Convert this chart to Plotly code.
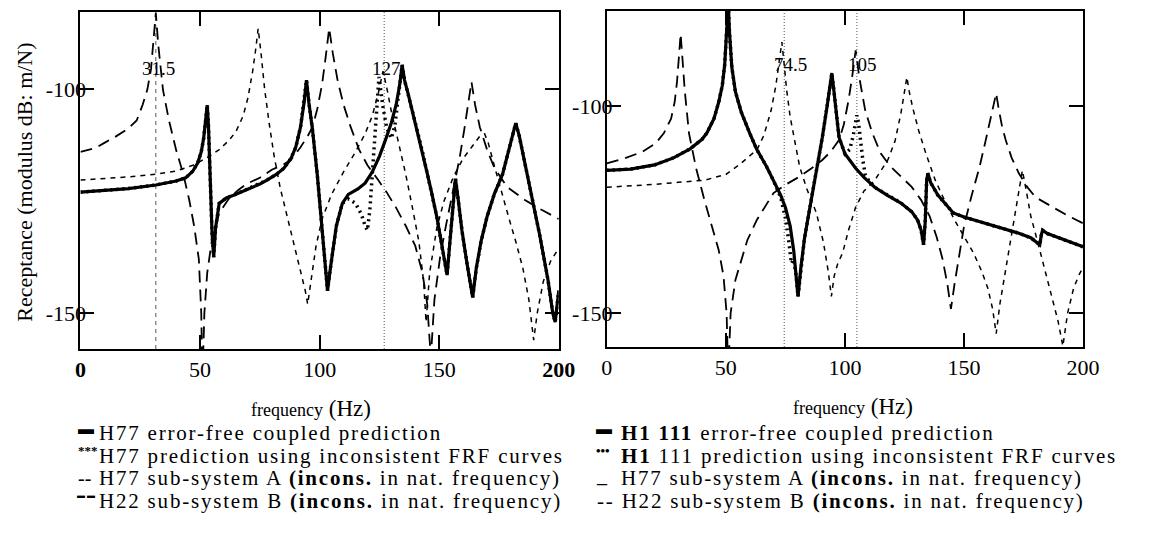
import plotly.graph_objects as go

# ---------------- LEFT PLOT (H77) ----------------
L_solid_f = [0, 10, 20, 31.5, 40, 44, 47, 49, 50.5, 51.5, 52.5, 53, 53.5, 54.2, 55, 55.7, 56.5, 58, 61, 64,
             70, 75, 78, 82, 85, 88, 90, 92, 93.5, 94.5, 95.5, 97, 99, 101, 102.5, 103.3, 104.5, 105.5, 107, 109.5,
             112, 116, 119, 122, 125, 127.5, 130, 132, 133.5, 134.5, 135.5, 137, 140, 143, 145, 147, 149, 151, 152.5, 153.3,
             154.5, 155.7, 156.8, 157.8, 159.5, 161.5, 163, 164, 165.5, 167.5, 170, 173, 176.5, 179, 181, 182, 183.5, 186, 189, 192,
             195.5, 197.5, 198.5, 199.5, 200]
L_solid_db = [-123.0, -122.6, -122.2, -121.4, -120.5, -119.8, -118.3, -116.5, -114, -111, -106.5, -103.6, -108, -120, -132, -137.5, -131, -125.5, -124.3, -123.7,
              -122.3, -121.2, -120.3, -119, -117.7, -115.5, -113, -108.5, -103, -98, -103, -109, -119, -132, -141, -145, -140, -136, -130.5, -125.5,
              -123.5, -122.3, -121, -118.5, -115, -111.4, -107.5, -103.5, -99, -94.6, -98, -101, -107.5, -114, -118.8, -123.5, -128.5, -134.5, -139.5, -141.5,
              -134, -126, -120, -124, -131.5, -138.5, -143, -146.5, -140, -134, -128.5, -123.5, -119, -114, -109.5, -107.6, -110.5, -117, -124.8, -132.5,
              -142.6, -150, -152, -148, -145]

L_dot_f = [0, 10, 20, 31.5, 40, 44, 47, 49, 50.5, 51.5, 52.5, 53, 53.5, 54.2, 55, 55.7, 56.5, 58, 61, 64,
           70, 75, 78, 82, 85, 88, 90, 92, 93.5, 94.5, 95.5, 97, 99, 101, 102.5, 103.3, 104.5, 105.5, 107, 109.5,
           112, 115, 117.5, 119, 120, 121, 122, 123, 124, 124.8, 125.5, 126.5, 128, 130, 131.5, 132.5, 133.5, 134.5, 135.5, 137,
           140, 143, 145, 147, 149, 151, 152.5, 153.3, 154.5, 155.7, 156.8, 157.8, 159.5, 161.5, 163, 164, 165.5, 167.5, 170, 173,
           176.5, 179, 181, 182, 183.5, 186, 189, 192, 195.5, 197.5, 198.5, 199.5, 200]
L_dot_db = [-123.0, -122.6, -122.2, -121.4, -120.5, -119.8, -118.3, -116.5, -114, -111, -106.5, -103.6, -108, -120, -132, -137.5, -131, -125.5, -124.3, -123.7,
            -122.3, -121.2, -120.3, -119, -117.7, -115.5, -113, -108.5, -103, -98, -103, -109, -119, -132, -141, -145, -140, -136, -130.5, -125.5,
            -124.5, -125.5, -128, -130.5, -131.5, -127, -119, -110, -102, -97.3, -100, -104, -108.5, -111, -108, -104, -99, -94.6, -98, -101,
            -107.5, -114, -118.8, -123.5, -128.5, -134.5, -139.5, -141.5, -134, -126, -120, -124, -131.5, -138.5, -143, -146.5, -140, -134, -128.5, -123.5,
            -119, -114, -109.5, -107.6, -110.5, -117, -124.8, -132.5, -142.6, -150, -152, -148, -145]

L_A_f = [0, 10, 20, 31.5, 40, 47, 53, 58, 62, 65, 68, 70, 72, 73.3, 74.3, 75.5, 77, 79, 81, 83.5,
         86, 89, 92, 94, 95, 96.5, 98.5, 101, 105, 110, 115, 119, 122, 124.5, 126.5, 128, 130, 133, 136, 139,
         141.5, 143.5, 144.5, 146, 149, 152, 156, 160, 164, 167, 169, 170.5, 173, 176, 179, 182, 185, 187.5, 189.5, 191,
         193.5, 196.5, 200]
L_A_db = [-120.3, -120.0, -119.6, -119.0, -118.3, -117, -115.3, -113.5, -111.5, -109.5, -106, -102, -96, -91, -86.5, -92, -100, -108, -115, -122,
          -127.5, -133.7, -140, -145, -148, -142, -135, -129, -123.5, -118.5, -114, -110, -106, -101, -96, -99.5, -105, -112, -119, -127,
          -134, -143, -152, -141, -131, -125, -119.5, -115.5, -112.5, -110.5, -110, -112, -117, -123, -128.5, -134, -140, -147, -156, -150,
          -143, -138.5, -135.5]

L_B_f = [0, 6, 10, 15, 20, 23.5, 26, 28, 29.5, 30.5, 31.5, 32.5, 33.5, 34.5, 37, 40, 43, 45.5, 47.5, 49.5,
         50.5, 51, 51.8, 53, 55, 58, 62, 66, 70, 75, 80, 85, 88, 92, 95, 97, 99, 101, 102.5, 104,
         105.5, 107.5, 110, 113, 116.5, 120, 124.5, 128, 132, 136, 140, 143, 145, 146.5, 148, 150.5, 153, 156, 158.5, 160.5,
         162, 163.5, 165, 167, 170, 173, 178.5, 186, 193, 200]
L_B_db = [-114.0, -113.2, -112.0, -110.5, -108.8, -107, -103.5, -100, -95.5, -90, -83, -90, -95.5, -100.2, -107, -113.6, -119, -124.8, -130.5, -138,
          -150, -165, -150, -141, -133.5, -127.7, -124.5, -122.5, -121, -119.8, -118, -116.8, -115.8, -113, -110.5, -108.5, -104.5, -99, -93, -86.4,
          -92, -98, -103.5, -108.5, -113.5, -117, -120.3, -123, -126.5, -130.5, -135, -141, -148, -160, -147, -137, -130, -122.5, -115.5, -109,
          -103.5, -98.4, -103.5, -108.5, -113.5, -117.5, -121.9, -124.8, -127, -129]

# ---------------- RIGHT PLOT (H1111) ----------------
R_solid_f = [0, 10, 20, 28, 35, 40, 42, 45, 47, 48.5, 49.5, 50.5, 51, 51.5, 52.5, 54, 56.5, 60, 63, 67,
             70, 73, 75, 77, 78.5, 79.5, 80.3, 81.5, 83, 84.5, 86.5, 88.5, 90.5, 92.5, 93.7, 94.5, 95.3, 96.5, 97.5, 100,
             104.5, 108, 112.5, 118, 123.5, 128, 130.5, 132, 133, 133.7, 134.3, 134.8, 136, 139, 142, 145.5, 150, 159, 166, 173,
             178, 181, 181.8, 182.5, 183, 185, 190, 195, 200]
R_solid_db = [-115.5, -115.2, -114.2, -112.5, -110.3, -108, -106.5, -103, -99, -95, -90, -82, -75, -82, -90.6, -96.5, -101.5, -106.5, -110.5, -114.5,
              -118, -121.5, -124.5, -129, -135, -141, -146, -139, -132, -127, -120.5, -114.5, -107.5, -100, -95, -92, -96, -103, -107.5, -111.5,
              -115, -117.2, -119.6, -121.6, -123.4, -125.5, -127.5, -130, -133.5, -128, -118, -116.2, -118.5, -121.5, -123.5, -125.8, -126.8, -128.3, -129.5, -130.7,
              -131.8, -133, -133.5, -131, -130, -130.8, -131.8, -133, -134]

R_dot_f = [0, 10, 20, 28, 35, 40, 42, 45, 47, 48.5, 49.5, 50.5, 51, 51.5, 52.5, 54, 56.5, 60, 63, 67,
           70, 73, 75, 76.5, 77.5, 78.5, 79.5, 80.3, 81.5, 83, 84.5, 86.5, 88.5, 90.5, 92.5, 93.7, 94.5, 95.3, 96.5, 97.5,
           100, 102, 103.5, 104.5, 105, 105.7, 106.5, 107.5, 108.5, 110, 112.5, 118, 123.5, 128, 130.5, 132, 133, 133.7, 134.3, 134.8,
           136, 139, 142, 145.5, 150, 159, 166, 173, 178, 181, 181.8, 182.5, 183, 185, 190, 195, 200]
R_dot_db = [-115.5, -115.2, -114.2, -112.5, -110.3, -108, -106.5, -103, -99, -95, -90, -82, -75, -82, -90.6, -96.5, -101.5, -106.5, -110.5, -114.5,
            -118, -122, -127, -133, -138, -137, -141, -146, -139, -132, -127, -120.5, -114.5, -107.5, -100, -95, -92, -96, -103, -107.5,
            -111.5, -110.5, -107, -103, -102.2, -104, -109, -113, -116.5, -118, -119.6, -121.6, -123.4, -125.5, -127.5, -130, -133.5, -128, -118, -116.2,
            -118.5, -121.5, -123.5, -125.8, -126.8, -128.3, -129.5, -130.7, -131.8, -133, -133.5, -131, -130, -130.8, -131.8, -133, -134]

R_A_f = [0, 10, 20, 30, 41, 50, 56, 60, 63, 66, 69, 71, 72.5, 73.5, 74.5, 75.5, 77, 79, 81, 84,
         88, 91, 93, 94.3, 95.5, 97, 99, 101.5, 104.5, 108, 112.5, 118, 121, 123.5, 125, 126, 127, 128.5, 131, 134,
         138, 142, 146, 150, 154, 157.5, 160, 162, 163.5, 165, 167, 169.5, 171.5, 173, 174.5, 176, 178, 181, 184, 187,
         189.5, 191.5, 193.5, 196, 198.5, 200]
R_A_db = [-119.6, -119.3, -118.9, -118.4, -117.9, -116.5, -114, -112, -110.6, -107, -101, -95, -89, -84.5, -90, -96, -102.6, -109, -114.7, -120,
          -125.8, -133, -140, -146, -141, -138, -135.5, -130, -124.4, -120.5, -117.9, -113, -108.5, -101.7, -96.5, -93, -96.5, -100.5, -106, -111.5,
          -118, -123, -127.5, -131.5, -135.5, -140, -144, -149, -155, -148, -141, -133, -126, -120, -115.5, -120, -126.5, -133, -139.5, -146,
          -152, -158, -150, -144, -140.5, -139]

R_B_f = [0, 8, 15, 20.5, 24, 27, 28.5, 29.5, 30.3, 31, 31.7, 32.7, 34.5, 37.5, 41, 44, 47, 49, 50.3, 51,
         52, 54, 56.5, 59, 63, 70, 75, 81, 86, 90.5, 94, 97.5, 99.5, 101.5, 103, 104.5, 106, 108.5, 111.5, 115,
         119, 123.5, 128, 132, 135.5, 138.5, 141, 143, 144.5, 146, 148, 150, 153, 156.5, 159, 161, 162.5, 163.5, 164.5, 166,
         167.5, 170, 173, 176.5, 180, 187, 193, 200]
R_B_db = [-113.8, -112.5, -111, -109, -106.5, -103, -99, -94, -88, -82.5, -88, -96, -106.5, -115, -122.7, -129, -134.8, -141, -150, -165,
          -150, -142, -137, -132.4, -127.5, -121, -119, -117, -115, -113, -111, -108.2, -104.5, -98.6, -93, -86.5, -93, -101, -106.5, -111.4,
          -114.5, -117, -119.5, -122.7, -126.5, -131.6, -137, -143, -149, -143, -136, -129, -122, -114.7, -108.5, -103, -99, -96.9, -100.5, -105,
          -108.2, -112.5, -116.2, -119.5, -122, -124.4, -126.3, -128.3]

# reference (inconsistent natural frequency) markers
L_vlines = [31.5, 127]
L_vlabels = ["31.5", "127"]
R_vlines = [74.5, 105]
R_vlabels = ["74.5", "105"]

x_ticks = [0, 50, 100, 150, 200]
L_xticktext = ["<b>0</b>", "50", "100", "150", "<b>200</b>"]
R_xticktext = ["0", "50", "100", "150", "200"]
y_ticks = [-100, -150]
y_ticktext = ["-100", "-150"]

L_legend = ["H77 error-free coupled prediction",
            "H77 prediction using inconsistent FRF curves",
            "H77 sub-system A <b>(incons.</b> in nat. frequency)",
            "H22 sub-system B <b>(incons.</b> in nat. frequency)"]
R_legend = ["<b>H1 111</b> error-free coupled prediction",
            "<b>H1</b> 111 prediction using inconsistent FRF curves",
            "H77 sub-system A <b>(incons.</b> in nat. frequency)",
            "H22 sub-system B <b>(incons.</b> in nat. frequency)"]

FONT = "Liberation Serif"
W, H = 1155, 545
L_YR = [-158, -82.8]
R_YR = [-158.2, -77]

fig = go.Figure()

def add_vlines(freqs, xa, ya, yr, dashes):
    for f, d in zip(freqs, dashes):
        fig.add_trace(go.Scatter(x=[f, f], y=yr, mode="lines", xaxis=xa, yaxis=ya,
                                 line=dict(color="#555555", width=1, dash=d), hoverinfo="skip", showlegend=False))

add_vlines(L_vlines, "x", "y", L_YR, ["4px,4px", "1px,2px"])
add_vlines(R_vlines, "x2", "y2", R_YR, ["1px,2px", "1px,2px"])

def add_curves(xa, ya, B, A, D, S):
    fig.add_trace(go.Scatter(x=B[0], y=B[1], mode="lines", xaxis=xa, yaxis=ya,
                             line=dict(color="black", width=1.8, dash="12px,7px"), showlegend=False))
    fig.add_trace(go.Scatter(x=A[0], y=A[1], mode="lines", xaxis=xa, yaxis=ya,
                             line=dict(color="black", width=1.5, dash="5px,5px"), showlegend=False))
    fig.add_trace(go.Scatter(x=D[0], y=D[1], mode="lines", xaxis=xa, yaxis=ya,
                             line=dict(color="black", width=3.5, dash="2px,4px"), showlegend=False))
    fig.add_trace(go.Scatter(x=S[0], y=S[1], mode="lines", xaxis=xa, yaxis=ya,
                             line=dict(color="black", width=3.2), showlegend=False))

add_curves("x", "y", (L_B_f, L_B_db), (L_A_f, L_A_db), (L_dot_f, L_dot_db), (L_solid_f, L_solid_db))
add_curves("x2", "y2", (R_B_f, R_B_db), (R_A_f, R_A_db), (R_dot_f, R_dot_db), (R_solid_f, R_solid_db))

axis_common = dict(showline=True, linecolor="black", linewidth=2, mirror="ticks", ticks="inside",
                   ticklen=14, tickwidth=1.5, tickcolor="black", showgrid=False, zeroline=False,
                   tickfont=dict(family=FONT, size=22, color="black"))

fig.update_layout(
    width=W, height=H, margin=dict(l=0, r=0, t=0, b=0),
    paper_bgcolor="white", plot_bgcolor="white", showlegend=False,
    xaxis=dict(domain=[76 / W, 564 / W], range=[0, 200], tickvals=x_ticks, ticktext=L_xticktext,
               anchor="y", **axis_common),
    yaxis=dict(domain=[1 - 349 / H, 1 - 12 / H], range=L_YR, tickvals=y_ticks, ticktext=y_ticktext,
               anchor="x", ticklabelstandoff=-12, **axis_common),
    xaxis2=dict(domain=[613 / W, 1099 / W], range=[0, 200], tickvals=x_ticks, ticktext=R_xticktext,
                anchor="y2", **axis_common),
    yaxis2=dict(domain=[1 - 347 / H, 1 - 11 / H], range=R_YR, tickvals=y_ticks, ticktext=y_ticktext,
                anchor="x2", ticklabelstandoff=-12, **axis_common),
)

ann = []
# peak frequency labels
for f, t in zip(L_vlines, L_vlabels):
    ann.append(dict(x=f + 1, y=-95.3, xref="x", yref="y", text=t, showarrow=False,
                    font=dict(family=FONT, size=19, color="black")))
for f, t in zip(R_vlines, R_vlabels):
    ann.append(dict(x=f + 2.5, y=-90, xref="x2", yref="y2", text=t, showarrow=False,
                    font=dict(family=FONT, size=19, color="black")))

# axis titles
ann.append(dict(x=18 / W, y=1 - 182 / H, xref="paper", yref="paper", xanchor="center", yanchor="middle",
                text="Receptance (modulus dB: m/N)",
                textangle=-90, showarrow=False, font=dict(family=FONT, size=22, color="black")))
xt = "<span style='font-size:18px'>frequency</span> (Hz)"
ann.append(dict(x=311 / W, y=1 - 408 / H, xref="paper", yref="paper", xanchor="center", yanchor="middle",
                text=xt, showarrow=False, font=dict(family=FONT, size=23, color="black")))
ann.append(dict(x=864 / W, y=1 - 406 / H, xref="paper", yref="paper", xanchor="center", yanchor="middle",
                text=xt, showarrow=False, font=dict(family=FONT, size=23, color="black")))

# legends
def spaced(t):
    return "<span style='letter-spacing:1.8px'>" + t + "</span>"

L_sym = ["<b>▬</b>", "<b>***</b>", "--", "<b>▬ ▬</b>"]
R_sym = ["<b>▬</b>", "<b>•••</b>", "_", "--"]
L_sym_size = [16, 13, 20, 8]
R_sym_size = [16, 13, 20, 20]
L_sym_dy = [5, 6, 0, 6]
R_sym_dy = [5, 6, 3, 0]
L_sym_x = [71, 71, 71, 70]
rows = [433, 456, 478, 501]
for i, y in enumerate(rows):
    ann.append(dict(x=93 / W, y=1 - y / H, xref="paper", yref="paper", xanchor="left", yanchor="middle",
                    text=spaced(L_legend[i]), showarrow=False, font=dict(family=FONT, size=21, color="black")))
    ann.append(dict(x=L_sym_x[i] / W, y=1 - y / H, xref="paper", yref="paper", xanchor="left", yanchor="middle",
                    text=L_sym[i], showarrow=False, yshift=L_sym_dy[i],
                    font=dict(family=FONT, size=L_sym_size[i], color="black")))
    rx = 601 if i == 3 else 625
    rt = ("-- " + R_legend[i]) if i == 3 else R_legend[i]
    ann.append(dict(x=rx / W, y=1 - y / H, xref="paper", yref="paper", xanchor="left", yanchor="middle",
                    text=spaced(rt), showarrow=False, font=dict(family=FONT, size=21, color="black")))
    if i != 3:
        ann.append(dict(x=600 / W, y=1 - y / H, xref="paper", yref="paper", xanchor="left", yanchor="middle",
                        text=R_sym[i], showarrow=False, yshift=R_sym_dy[i],
                        font=dict(family=FONT, size=R_sym_size[i], color="black")))

fig.update_layout(annotations=ann)
fig.write_html("out.html")
